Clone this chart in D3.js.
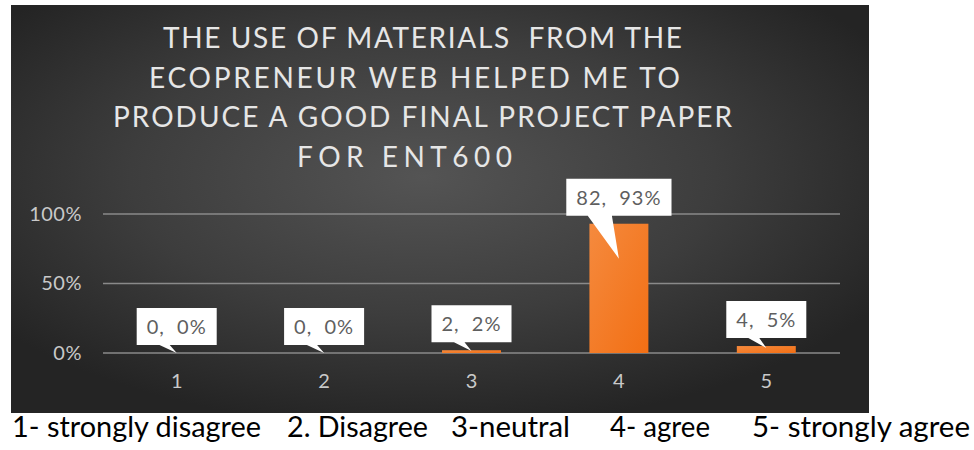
<!DOCTYPE html>
<html>
<head>
<meta charset="utf-8">
<script src="https://cdn.jsdelivr.net/npm/d3@7/dist/d3.min.js"></script>
<style>
    body { margin: 0; background: #fff; }
    svg { display: block; }
</style>
</head>
<body>
<svg id="chart" width="974" height="450"></svg>
<script>
// data
const categories = ['1', '2', '3', '4', '5'];
const counts = [0, 0, 2, 82, 4];
const percents = [0, 0, 0.02, 0.93, 0.05];
const yTicks = [0, 0.5, 1];
const titleLines = [
    'THE USE OF MATERIALS  FROM THE',
    'ECOPRENEUR WEB HELPED ME TO',
    'PRODUCE A GOOD FINAL PROJECT PAPER',
    'FOR ENT600',
];
const scaleNotes = ['1- strongly disagree', '2. Disagree', '3-neutral', '4- agree', '5- strongly agree'];

// Lato is the closest installed face to Calibri
const FONT = "Lato, 'Open Sans', sans-serif";

const svg = d3.select('#chart');
const panel = { x: 11, y: 5, w: 858, h: 408 };
const plot = { left: 103, right: 840, top: 214, bottom: 353 };

// background gradient
const defs = svg.append('defs');
const bg = defs.append('radialGradient')
    .attr('id', 'bg')
    .attr('cx', 0.48).attr('cy', 0.42).attr('r', 0.62);
bg.append('stop').attr('offset', 0).attr('stop-color', '#545454');
bg.append('stop').attr('offset', 0.55).attr('stop-color', '#3d3d3d');
bg.append('stop').attr('offset', 1).attr('stop-color', '#242424');

const barGrad = defs.append('linearGradient')
    .attr('id', 'bar')
    .attr('x1', 0).attr('y1', 0).attr('x2', 1).attr('y2', 1);
barGrad.append('stop').attr('offset', 0).attr('stop-color', '#f58a3e');
barGrad.append('stop').attr('offset', 1).attr('stop-color', '#f26f14');

svg.append('rect')
    .attr('x', panel.x).attr('y', panel.y)
    .attr('width', panel.w).attr('height', panel.h)
    .attr('fill', 'url(#bg)');

// title, each line stretched to the width it has in the picture
const titleX = [163, 149, 113, 297];
const titleW = [519, 531, 619, 215];
svg.append('g')
    .selectAll('text')
    .data(titleLines)
    .enter()
    .append('text')
    .attr('x', (d, i) => titleX[i])
    .attr('y', (d, i) => 48 + i * 39.7)
    .attr('textLength', (d, i) => titleW[i])
    .attr('lengthAdjust', 'spacing')
    .attr('xml:space', 'preserve')
    .style('font-family', FONT)
    .style('font-size', '28px')
    .style('fill', '#e6e6e6')
    .text((d) => d);

const x = d3.scaleBand()
    .domain(categories)
    .range([plot.left, plot.right])
    .paddingInner(0.6)
    .paddingOuter(0.3);

const y = d3.scaleLinear()
    .domain([0, 1])
    .range([plot.bottom, plot.top]);

// gridlines
svg.append('g')
    .selectAll('line')
    .data(yTicks)
    .enter()
    .append('line')
    .attr('x1', plot.left)
    .attr('x2', plot.right)
    .attr('y1', (d) => y(d))
    .attr('y2', (d) => y(d))
    .attr('stroke', '#8a8a8a')
    .attr('stroke-width', 1.5);

// y axis labels
const yAxis = d3.axisLeft(y).tickValues(yTicks).tickFormat(d3.format('.0%')).tickSize(0).tickPadding(21);
const yG = svg.append('g').attr('transform', `translate(${ plot.left },0)`).call(yAxis);
yG.select('.domain').remove();
yG.selectAll('text')
    .style('font-family', FONT)
    .style('font-size', '20px')
    .style('letter-spacing', '0.5px')
    .style('fill', '#c9c9c9');

// x axis labels
const xAxis = d3.axisBottom(x).tickSize(0).tickPadding(21);
const xG = svg.append('g').attr('transform', `translate(0,${ plot.bottom })`).call(xAxis);
xG.select('.domain').remove();
xG.selectAll('text')
    .style('font-family', FONT)
    .style('font-size', '20px')
    .style('fill', '#c9c9c9');

// bars
const rows = categories.map((c, i) => ({ cat: c, count: counts[i], pct: percents[i] }));
svg.append('g')
    .selectAll('rect')
    .data(rows)
    .enter()
    .append('rect')
    .attr('x', (d) => x(d.cat))
    .attr('y', (d) => y(d.pct))
    .attr('width', x.bandwidth())
    .attr('height', (d) => y(0) - y(d.pct))
    .attr('fill', 'url(#bar)');

// callout data labels
const labels = svg.append('g')
    .selectAll('g')
    .data(rows)
    .enter()
    .append('g');

labels.each(function (d) {
    const g = d3.select(this);
    const cx = x(d.cat) + x.bandwidth() / 2;
    const top = y(d.pct);
    const boxBottom = top - 8;
    const boxTop = boxBottom - 37;
    const tipY = top + 0.27 * (y(0) - top);
    const path = g.append('path');
    const txt = g.append('text')
        .attr('x', cx)
        .attr('y', boxBottom - 11)
        .attr('text-anchor', 'middle')
        .attr('xml:space', 'preserve')
        .style('font-family', FONT)
        .style('font-size', '20px')
        .style('letter-spacing', '1px')
        .style('fill', '#5f5f5f')
        .text(`${ d.count },  ${ Math.round(d.pct * 100) }%`);
    const w = txt.node().getComputedTextLength() + 20;
    const x0 = cx - w / 2;
    const x1 = cx + w / 2;
    const br = cx - 7;
    const bl = cx - 14 - 0.4 * (tipY - boxBottom);
    path.attr('d', `M${ x0 },${ boxTop } H${ x1 } V${ boxBottom } H${ br } L${ cx },${ tipY } L${ bl },${ boxBottom } H${ x0 } Z`)
        .attr('fill', '#ffffff');
});

// scale explanation under the chart
const noteX = [12, 287, 451, 610, 752];
const noteW = [249, 141, 119, 100, 218];
svg.append('g')
    .selectAll('text')
    .data(scaleNotes)
    .enter()
    .append('text')
    .attr('x', (d, i) => noteX[i])
    .attr('y', 437)
    .attr('textLength', (d, i) => noteW[i])
    .attr('lengthAdjust', 'spacingAndGlyphs')
    .style('font-family', FONT)
    .style('font-size', '28px')
    .style('fill', '#000')
    .text((d) => d);
</script>
</body>
</html>
